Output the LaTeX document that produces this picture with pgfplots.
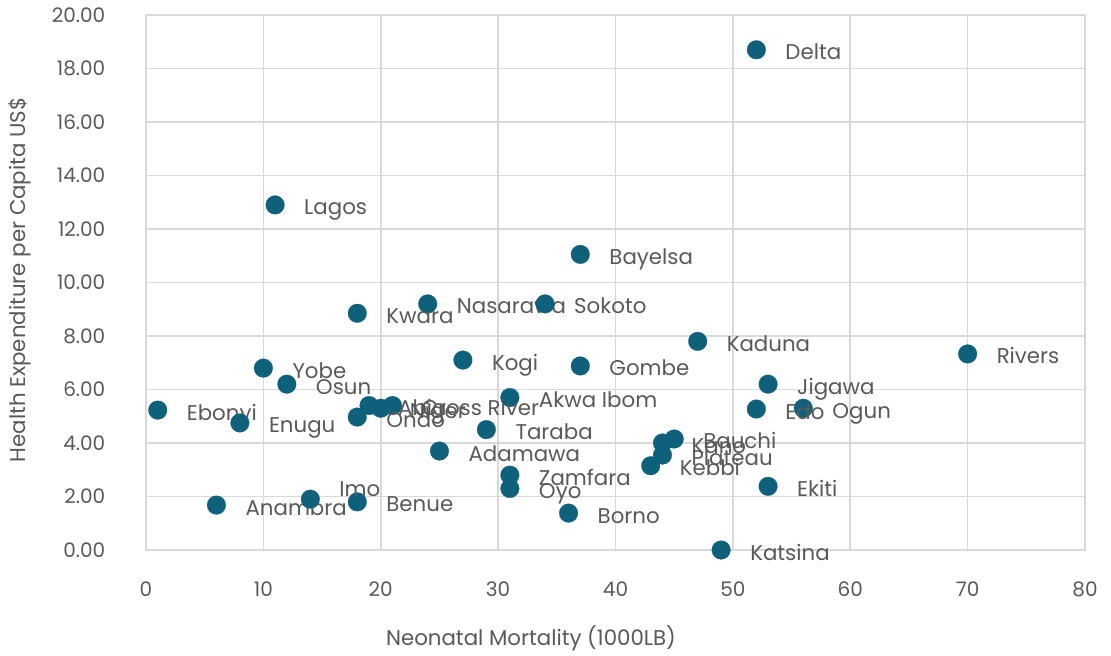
\documentclass[border=0pt]{standalone}
\usepackage{pgfplots}
\pgfplotsset{compat=1.18}
\usepackage{fontspec}
\setmainfont{Poppins}
\definecolor{dot}{HTML}{0F607B}
\definecolor{txt}{HTML}{595959}
\definecolor{grd}{HTML}{D9D9D9}
\begin{document}
\begin{tikzpicture}
\begin{axis}[
  scale only axis, width=704.25pt, height=401.25pt,
  xmin=0, xmax=80, ymin=0, ymax=20,
  xtick={0,10,...,80}, ytick={0,2,...,20},
  clip=false,
  grid=major, major grid style={grd, line width=1.3pt},
  axis line style={grd, line width=1.3pt},
  tick style={draw=none},
  ticklabel style={font=\fontsize{15}{18}\selectfont, text=txt},
  /pgf/number format/assume math mode=true,
  yticklabel style={/pgf/number format/fixed, /pgf/number format/fixed zerofill, /pgf/number format/precision=2, xshift=-27pt},
  xticklabel style={yshift=-20pt},
  xlabel={Neonatal Mortality (1000LB)},
  ylabel={Health Expenditure per Capita US\$},
  label style={font=\fontsize{16}{19}\selectfont, text=txt},
  xlabel style={at={(axis description cs:0.41,-0.165)}, anchor=center},
  ylabel style={at={(axis description cs:-0.134,0.505)}, anchor=center},
]
\addplot[only marks, mark=*, mark size=7pt, mark options={fill=dot, draw=dot, line width=0.2pt},
  nodes near coords, point meta=explicit symbolic,
  every node near coord/.append style={anchor=base west, xshift=21.75pt, yshift=-7.5pt,
    font=\fontsize{16}{19}\selectfont, text=txt, inner sep=0pt}]
table[col sep=comma, x=x, y=y, meta=label] {
label,x,y
Delta,52,18.7
Lagos,11,12.9
Bayelsa,37,11.05
Nasarawa,24,9.2
Sokoto,34,9.2
Kwara,18,8.85
Kaduna,47,7.8
Rivers,70,7.33
Kogi,27,7.1
Gombe,37,6.88
Yobe,10,6.8
Osun,12,6.2
Jigawa,53,6.2
Akwa Ibom,31,5.7
Ebonyi,1,5.23
Ogun,56,5.3
Edo,52,5.27
Abia,19,5.4
Niger,20,5.3
Cross River,21,5.4
Ondo,18,4.97
Enugu,8,4.75
Taraba,29,4.5
Bauchi,45,4.15
Kano,44,4.0
Plateau,44,3.55
Kebbi,43,3.15
Adamawa,25,3.7
Zamfara,31,2.8
Oyo,31,2.3
Ekiti,53,2.38
Benue,18,1.8
Anambra,6,1.68
Borno,36,1.38
Katsina,49,0
};
\addplot[only marks, mark=*, mark size=7pt, mark options={fill=dot, draw=dot, line width=0.2pt},
  nodes near coords, point meta=explicit symbolic,
  every node near coord/.append style={anchor=base west, xshift=21.75pt, yshift=2.25pt,
    font=\fontsize{16}{19}\selectfont, text=txt, inner sep=0pt}]
table[col sep=comma, x=x, y=y, meta=label] {
label,x,y
Imo,14,1.9
};
\path (axis description cs:-0.15548,-0.19626) rectangle (axis description cs:1.02769,1.02804);
\end{axis}
\end{tikzpicture}
\end{document}
